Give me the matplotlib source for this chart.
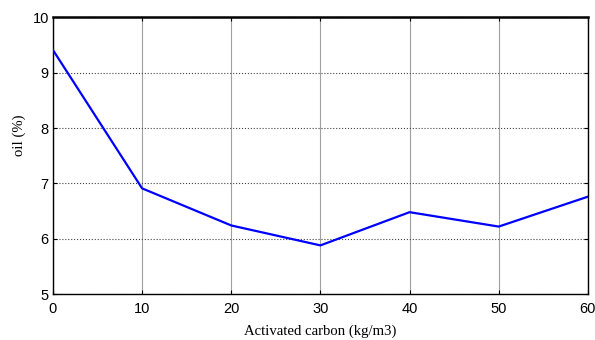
import matplotlib
matplotlib.use("Agg")
import matplotlib.pyplot as plt

carbon = [0, 10, 20, 30, 40, 50, 60]
oil = [9.41, 6.91, 6.24, 5.88, 6.48, 6.22, 6.76]

fig = plt.figure(figsize=(5.95, 3.4), dpi=100)
ax = fig.add_axes([0.089, 0.135, 0.899, 0.814])

ax.plot(carbon, oil, color="#0000ff", linewidth=1.6, zorder=3)

ax.set_xlim(0, 60)
ax.set_ylim(5, 10)
ax.set_xticks(carbon)
ax.set_yticks([5, 6, 7, 8, 9, 10])
# vertical grid looks solid grey, horizontal is dotted
ax.xaxis.grid(True, linestyle="-", color="#a0a0a0", linewidth=0.8)
ax.yaxis.grid(True, linestyle=":", color="#444444", linewidth=0.8)

ax.tick_params(direction="in", length=3, width=0.8, top=True, right=True,
               labelsize=10.5)
ax.tick_params(axis="x", pad=6)
ax.tick_params(axis="y", pad=3)
for lbl in ax.get_xticklabels() + ax.get_yticklabels():
    lbl.set_family("Liberation Sans")
for sp in ax.spines.values():
    sp.set_linewidth(1.0)
ax.spines["top"].set_linewidth(1.8)

ax.set_xlabel("Activated carbon (kg/m3)", family="Liberation Serif", fontsize=10.6, labelpad=6)
ax.set_ylabel("oil (%)", family="Liberation Serif", fontsize=10.6)
ax.yaxis.set_label_coords(-0.05, 0.574)

fig.savefig("out.png", dpi=100)
